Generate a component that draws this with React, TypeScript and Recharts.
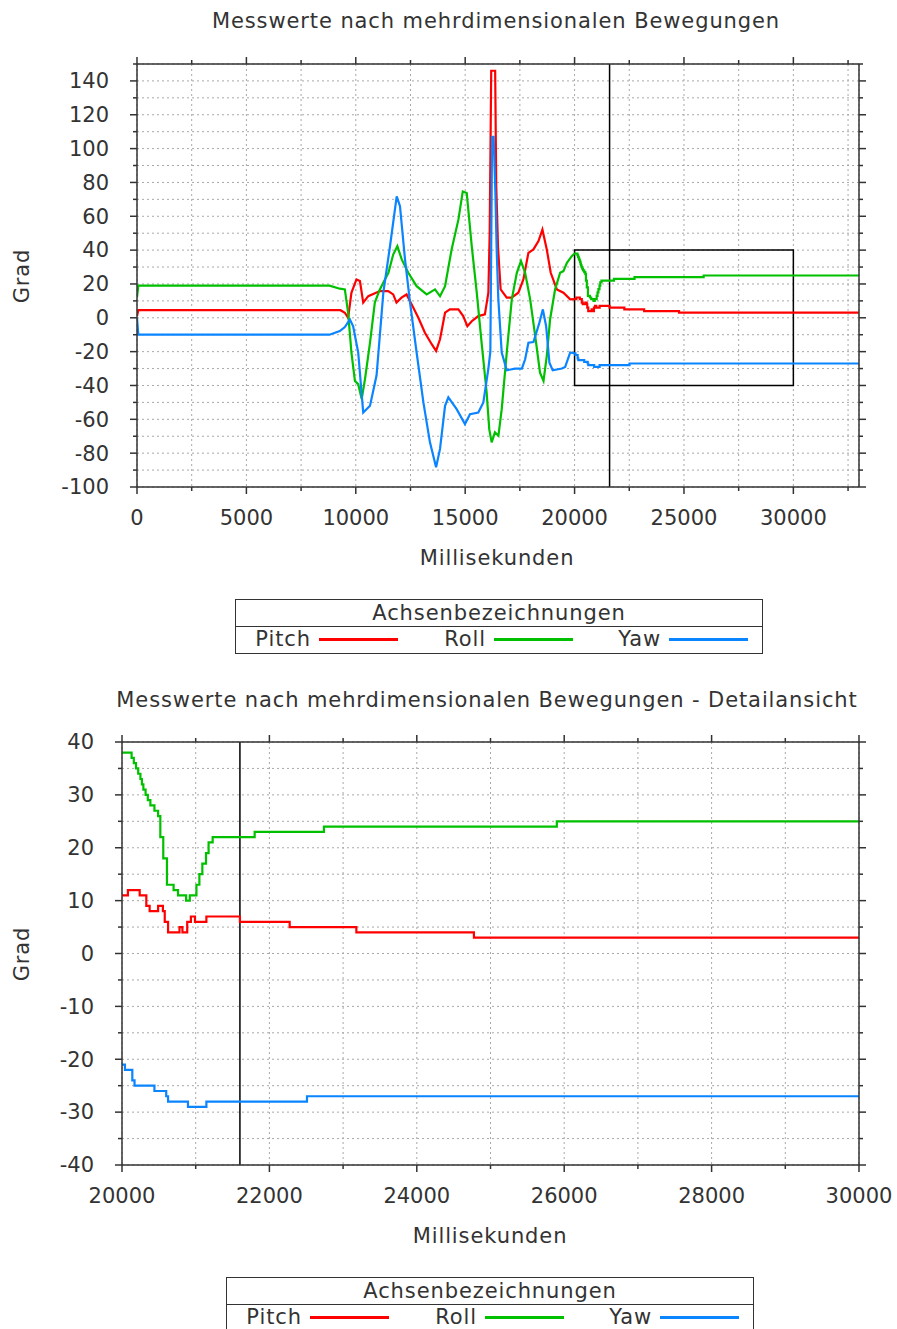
import React from "react";
import {
  LineChart,
  Line,
  XAxis,
  YAxis,
  CartesianGrid,
  ReferenceLine,
  ReferenceArea,
} from "recharts";

type Pt = [number, number];

const FONT = "'DejaVu Sans', sans-serif";
const FONT_SIZE = 21;
const SPACING = "0.9px";
const TEXT = "#333";
const BORDER = "#333";

// Overview readings (ms, degrees) up to 20 s plus the value at the right edge
const PITCH_OVERVIEW: Pt[] = [
  [0, 1], [60, 4.5], [9300, 4.5], [9500, 3], [9650, 0], [9800, 14.8], [10030, 22.7],
  [10190, 21.7], [10340, 9], [10570, 12.8], [11100, 15.8], [11480, 15.8], [11710, 13.8],
  [11860, 9], [12090, 11.9], [12320, 13.8], [12550, 8], [12860, 0], [13160, -8.8],
  [13470, -15.6], [13670, -19.6], [13850, -12.7], [14080, 3], [14300, 5], [14690, 5],
  [14910, 1], [15100, -5], [15300, -2], [15600, 1], [15900, 2], [16060, 14.8],
  [16120, 50], [16190, 146], [16370, 146], [16420, 78], [16500, 42], [16620, 16.8],
  [16900, 11.9], [17120, 11.9], [17430, 14.8], [17660, 22.7], [17890, 38.4],
  [18120, 40.4], [18350, 45.3], [18530, 52.1], [18730, 40.4], [18910, 26.6],
  [19190, 16.8], [19490, 14.8], [19800, 10.9], [33000, 3],
];

const ROLL_OVERVIEW: Pt[] = [
  [0, 12], [60, 19], [8800, 19], [9270, 17.2], [9500, 16.8], [9650, 3], [9800, -20.5],
  [9960, -37.3], [10110, -39.2], [10270, -48], [10420, -36.3], [10650, -14.7],
  [10870, 9], [11100, 16.8], [11490, 26.6], [11710, 37.4], [11900, 42.3], [12100, 34.5],
  [12400, 26.6], [12780, 18.7], [13240, 13.8], [13620, 16.8], [13850, 12.8],
  [14080, 18.7], [14380, 40.4], [14690, 58], [14890, 74.7], [15070, 73.8], [15300, 42.3],
  [15530, 14.8], [15750, -14.7], [15980, -44], [16100, -65.8], [16210, -73.6],
  [16360, -67.7], [16520, -69.7], [16670, -54], [16900, -20.5], [17130, 10.9],
  [17360, 26.6], [17550, 33.5], [17740, 26.6], [17970, 10.9], [18200, -10.7],
  [18420, -32.4], [18580, -37.3], [18730, -22.5], [18880, -1], [19110, 16.8],
  [19340, 26.6], [19490, 27.6], [19650, 32.5], [19870, 36.4], [33000, 25],
];

const YAW_OVERVIEW: Pt[] = [
  [0, 0], [60, -10], [8800, -10], [9270, -7.8], [9500, -5.5], [9730, -1], [9880, -5],
  [10110, -20.5], [10340, -56], [10650, -52], [10950, -34], [11260, 15], [11560, 42],
  [11870, 71.8], [12020, 66], [12250, 34.5], [12480, 9], [12780, -20.5], [13090, -50],
  [13390, -73.6], [13670, -88.3], [13850, -77.5], [14080, -52], [14230, -47],
  [14610, -54], [14990, -62.8], [15220, -57], [15600, -56], [15830, -50], [16060, -30],
  [16150, -20], [16230, 107], [16300, 107], [16380, 74], [16440, 40], [16515, 11],
  [16670, -20.5], [16900, -31], [17280, -30], [17590, -30], [17740, -24.5],
  [17890, -14.7], [18120, -14.3], [18390, -3], [18550, 5], [18700, -5], [18850, -26.5],
  [19000, -31], [19420, -30], [19570, -29], [19800, -20.5], [33000, -27],
];

// Detail readings 20 s – 30 s (value holds until the next change)
const PITCH_DETAIL: Pt[] = [
  [20000, 11], [20080, 12], [20240, 11], [20330, 9], [20375, 8], [20490, 9], [20555, 8],
  [20580, 6], [20625, 4], [20780, 5], [20820, 4], [20885, 6], [20935, 7], [20990, 6],
  [21145, 7], [21600, 6], [22275, 5], [23180, 4], [24775, 3], [30000, 3],
];

const ROLL_DETAIL: Pt[] = [
  [20000, 38], [20130, 37], [20160, 36], [20190, 35], [20220, 34], [20250, 33],
  [20270, 32], [20290, 31], [20320, 30], [20350, 29], [20385, 28], [20440, 27],
  [20490, 26], [20520, 22], [20560, 18], [20610, 13], [20700, 12], [20760, 11],
  [20870, 10], [20920, 11], [21010, 13], [21050, 15], [21090, 17], [21140, 19],
  [21175, 21], [21230, 22], [21800, 23], [22740, 24], [25900, 25], [30000, 25],
];

const YAW_DETAIL: Pt[] = [
  [20000, -21], [20040, -22], [20140, -24], [20170, -25], [20440, -26], [20600, -27],
  [20625, -28], [20895, -29], [21145, -28], [22510, -27], [30000, -27],
];

const MARKER_MS = 21600;
const ZOOM_BOX = { x1: 20000, x2: 30000, y1: -40, y2: 40 };

const OVERVIEW_X_TICKS = [
  0, 2500, 5000, 7500, 10000, 12500, 15000, 17500, 20000, 22500, 25000, 27500, 30000, 32500,
];
const OVERVIEW_X_LABELS = [0, 5000, 10000, 15000, 20000, 25000, 30000];
const OVERVIEW_Y_TICKS = [
  -100, -90, -80, -70, -60, -50, -40, -30, -20, -10, 0, 10, 20, 30, 40, 50, 60, 70, 80,
  90, 100, 110, 120, 130, 140, 150,
];
const OVERVIEW_Y_LABELS = [-100, -80, -60, -40, -20, 0, 20, 40, 60, 80, 100, 120, 140];

const DETAIL_X_TICKS = [
  20000, 21000, 22000, 23000, 24000, 25000, 26000, 27000, 28000, 29000, 30000,
];
const DETAIL_X_LABELS = [20000, 22000, 24000, 26000, 28000, 30000];
const DETAIL_Y_TICKS = [-40, -35, -30, -25, -20, -15, -10, -5, 0, 5, 10, 15, 20, 25, 30, 35, 40];
const DETAIL_Y_LABELS = [-40, -30, -20, -10, 0, 10, 20, 30, 40];

const SERIES = [
  { name: "Pitch", color: "#ff0000", overview: PITCH_OVERVIEW, detail: PITCH_DETAIL },
  { name: "Roll", color: "#00c000", overview: ROLL_OVERVIEW, detail: ROLL_DETAIL },
  { name: "Yaw", color: "#0a84ff", overview: YAW_OVERVIEW, detail: YAW_DETAIL },
];

const rows = (pts: Pt[]) => pts.map(([t, v]) => ({ t, v }));

// hold each detail value until the next change so the overview shows the steps too
function stepped(pts: Pt[]): Pt[] {
  const out: Pt[] = [];
  pts.forEach((p, i) => {
    if (i > 0) out.push([p[0], pts[i - 1][1]]);
    out.push(p);
  });
  return out;
}

const overviewOf = (a: Pt[], b: Pt[]) =>
  [...a, ...stepped(b)].sort((p, q) => p[0] - q[0]);

type Side = "bottom" | "top" | "left" | "right";

// tickSize/tickMargin are 0, so x/y are the spot on the axis line itself
function tickFor(side: Side, labeled: number[], withText: boolean) {
  return (props: any) => {
    const { x, y, payload } = props;
    const major = labeled.includes(payload.value);
    const len = major ? 7 : 4;
    const dx = side === "left" ? -len : side === "right" ? len : 0;
    const dy = side === "bottom" ? len : side === "top" ? -len : 0;
    let label = null;
    if (withText && major) {
      label =
        side === "bottom" ? (
          <text x={x} y={y + 31} dy="0.35em" textAnchor="middle" fill={TEXT}
            fontFamily={FONT} fontSize={FONT_SIZE}>{payload.value}</text>
        ) : (
          <text x={x - 28} y={y} dy="0.35em" textAnchor="end" fill={TEXT}
            fontFamily={FONT} fontSize={FONT_SIZE}>{payload.value}</text>
        );
    }
    return (
      <g>
        <line x1={x} y1={y} x2={x + dx} y2={y + dy} stroke={BORDER} strokeWidth={1.5} />
        {label}
      </g>
    );
  };
}

function Panel({
  width, height, margin, yAxisWidth, xDomain, yDomain, xTicks, xLabels, yTicks, yLabels,
  detail,
}: {
  width: number; height: number;
  margin: { top: number; right: number; bottom: number; left: number };
  yAxisWidth: number; xDomain: [number, number]; yDomain: [number, number];
  xTicks: number[]; xLabels: number[]; yTicks: number[]; yLabels: number[];
  detail: boolean;
}) {
  const axisLine = { stroke: BORDER, strokeWidth: 1.5 };
  return (
    <LineChart width={width} height={height} margin={margin}>
      <CartesianGrid stroke="#a8a8a8" strokeDasharray="2 3" />
      <XAxis xAxisId={0} type="number" dataKey="t" domain={xDomain} ticks={xTicks}
        allowDataOverflow interval={0} height={1} tickSize={0} tickMargin={0}
        axisLine={axisLine} tickLine={false} tick={tickFor("bottom", xLabels, true)} />
      <XAxis xAxisId="mirror" orientation="top" type="number" dataKey="t" domain={xDomain}
        ticks={xTicks} allowDataOverflow interval={0} height={1} tickSize={0} tickMargin={0}
        axisLine={axisLine} tickLine={false} tick={tickFor("top", xLabels, false)} />
      <YAxis yAxisId={0} type="number" domain={yDomain} ticks={yTicks} allowDataOverflow
        interval={0} width={yAxisWidth} tickSize={0} tickMargin={0} axisLine={axisLine}
        tickLine={false} tick={tickFor("left", yLabels, true)} />
      <YAxis yAxisId="mirror" orientation="right" type="number" domain={yDomain}
        ticks={yTicks} allowDataOverflow interval={0} width={1} tickSize={0} tickMargin={0}
        axisLine={axisLine} tickLine={false} tick={tickFor("right", yLabels, false)} />
      {!detail && (
        <ReferenceArea x1={ZOOM_BOX.x1} x2={ZOOM_BOX.x2} y1={ZOOM_BOX.y1} y2={ZOOM_BOX.y2}
          fill="none" fillOpacity={0} stroke="#000" strokeWidth={1.5} ifOverflow="hidden" />
      )}
      <ReferenceLine x={MARKER_MS} stroke="#000" strokeWidth={1.5} />
      {SERIES.map((s) => (
        <Line
          key={s.name}
          data={rows(detail ? s.detail : overviewOf(s.overview, s.detail))}
          dataKey="v"
          type={detail ? "stepAfter" : "linear"}
          stroke={s.color}
          strokeWidth={2.2}
          dot={false}
          activeDot={false}
          isAnimationActive={false}
        />
      ))}
    </LineChart>
  );
}

function LegendBox({ left, top }: { left: number; top: number }) {
  const line = "1.5px solid " + BORDER;
  return (
    <div style={{
      position: "absolute", left, top, width: 528, height: 55, border: line,
      boxSizing: "border-box", fontFamily: FONT, fontSize: FONT_SIZE, color: TEXT,
      letterSpacing: SPACING,
    }}>
      <div style={{ height: 26, borderBottom: line, textAlign: "center", lineHeight: "26px" }}>
        Achsenbezeichnungen
      </div>
      {SERIES.map((s, i) => (
        <React.Fragment key={s.name}>
          <div style={{
            position: "absolute", left: i * 175, top: 27, width: 75, textAlign: "right",
            lineHeight: "25px",
          }}>{s.name}</div>
          <div style={{
            position: "absolute", left: i * 175 + 83, top: 38, width: 79, height: 3,
            background: s.color,
          }} />
        </React.Fragment>
      ))}
    </div>
  );
}

function Caption({ x, y, children, rotate }: { x: number; y: number; children: string; rotate?: boolean }) {
  return (
    <div style={{
      position: "absolute", left: x, top: y,
      transform: `translate(-50%, -50%)${rotate ? " rotate(-90deg)" : ""}`,
      whiteSpace: "nowrap", fontFamily: FONT, fontSize: FONT_SIZE, color: TEXT, lineHeight: 1,
      letterSpacing: SPACING,
    }}>{children}</div>
  );
}

export default function App() {
  return (
    <div style={{
      position: "absolute", left: 0, top: 0, width: 897, height: 1329, overflow: "hidden",
      background: "#fff",
    }}>
      <Caption x={496} y={21}>Messwerte nach mehrdimensionalen Bewegungen</Caption>
      <div style={{ position: "absolute", left: 0, top: 0 }}>
        <Panel width={897} height={540} margin={{ top: 63, right: 37, bottom: 52, left: 0 }}
          yAxisWidth={137} xDomain={[0, 33000]} yDomain={[-100, 150]}
          xTicks={OVERVIEW_X_TICKS} xLabels={OVERVIEW_X_LABELS}
          yTicks={OVERVIEW_Y_TICKS} yLabels={OVERVIEW_Y_LABELS} detail={false} />
      </div>
      <Caption x={22} y={276} rotate>Grad</Caption>
      <Caption x={497} y={558}>Millisekunden</Caption>
      <LegendBox left={235} top={599} />

      <Caption x={487} y={700}>Messwerte nach mehrdimensionalen Bewegungen - Detailansicht</Caption>
      <div style={{ position: "absolute", left: 0, top: 680 }}>
        <Panel width={897} height={560} margin={{ top: 61, right: 37, bottom: 74, left: 0 }}
          yAxisWidth={122} xDomain={[20000, 30000]} yDomain={[-40, 40]}
          xTicks={DETAIL_X_TICKS} xLabels={DETAIL_X_LABELS}
          yTicks={DETAIL_Y_TICKS} yLabels={DETAIL_Y_LABELS} detail />
      </div>
      <Caption x={22} y={954} rotate>Grad</Caption>
      <Caption x={490} y={1236}>Millisekunden</Caption>
      <LegendBox left={226} top={1277} />
    </div>
  );
}
